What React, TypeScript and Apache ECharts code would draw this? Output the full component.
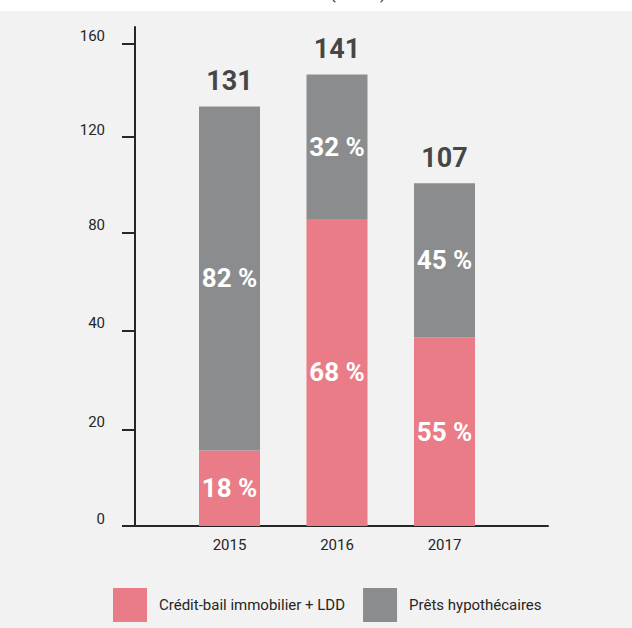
import React, { useEffect, useRef } from "react";
import * as echarts from "echarts";

const years = ["2015", "2016", "2017"];
const totals = [131, 141, 107];
const creditBailShare = [18, 68, 55];
const pretsShare = [82, 32, 45];
const yTickLabels = ["0", "20", "40", "80", "120", "160"];
const yTickAt = [0, 30, 60.9, 91.5, 121.4, 150.5];
const seriesNames = ["Crédit-bail immobilier + LDD", "Prêts hypothécaires"];
const titleText = "(en M€)";

const PINK = "#e97c86";
const GRAY = "#8b8c8e";
const INK = "#262626";
const BOLD = "Roboto, 'DejaVu Sans Condensed', sans-serif";
const NARROW = "Roboto, 'Liberation Sans', sans-serif";
const Y_MAX = 155.8;

export default function App() {
  const ref = useRef<HTMLDivElement>(null);
  useEffect(() => {
    document.body.style.margin = "0";
    const chart = echarts.init(ref.current!, null, { renderer: "svg" });
    const pinkData = years.map((_, i) => (totals[i] * creditBailShare[i]) / 100);
    const grayData = years.map((_, i) => (totals[i] * pretsShare[i]) / 100);
    const nearestIdx = (v: number) => {
      let best = 0;
      for (let i = 1; i < yTickAt.length; i++) {
        if (Math.abs(yTickAt[i] - v) < Math.abs(yTickAt[best] - v)) best = i;
      }
      return best;
    };
    chart.setOption({
      animation: false,
      backgroundColor: "#f2f2f2",
      graphic: [
        { type: "rect", shape: { x: 0, y: 0, width: 632, height: 11 }, style: { fill: "#ffffff" }, silent: true },
        {
          type: "text",
          x: 358,
          y: 1,
          style: { text: titleText, fontSize: 16, fill: INK, align: "center", verticalAlign: "bottom", fontFamily: NARROW },
          silent: true,
        },
      ],
      grid: [
        { left: 175.75, right: 133.75, top: 27, bottom: 102, containLabel: false, outerBoundsMode: "none" },
        { left: 135, right: 84, top: 27, bottom: 102, containLabel: false, outerBoundsMode: "none" },
      ],
      legend: {
        data: seriesNames,
        left: 113,
        top: 588,
        padding: 0,
        icon: "rect",
        itemWidth: 34,
        itemHeight: 34,
        itemGap: 18,
        selectedMode: false,
        textStyle: { fontSize: 15, color: INK, fontFamily: NARROW, padding: [0, 0, 0, 7] },
      },
      xAxis: [
        {
          type: "category",
          gridIndex: 0,
          data: years,
          axisLine: { show: false },
          axisTick: { show: false },
          axisLabel: { fontSize: 15, color: INK, margin: 11, fontFamily: NARROW },
        },
        {
          type: "value",
          gridIndex: 1,
          min: 0,
          max: 1,
          splitLine: { show: false },
          axisLine: { show: true, onZero: false, lineStyle: { color: INK, width: 2 } },
          axisTick: { show: false },
          axisLabel: { show: false },
        },
      ],
      yAxis: [
        {
          type: "value",
          gridIndex: 0,
          min: 0,
          max: Y_MAX,
          show: false,
          splitLine: { show: false },
        },
        {
          type: "value",
          gridIndex: 1,
          min: 0,
          max: Y_MAX,
          splitLine: { show: false },
          axisLine: { show: true, onZero: false, lineStyle: { color: INK, width: 2 } },
          axisTick: { show: true, length: 13, lineStyle: { color: INK, width: 2 }, customValues: yTickAt },
          axisLabel: {
            customValues: yTickAt,
            formatter: (v: number) => yTickLabels[nearestIdx(v)],
            fontSize: 15,
            color: INK,
            margin: 30,
            verticalAlign: "bottom",
            fontFamily: NARROW,
          },
        },
      ],
      series: [
        {
          name: seriesNames[0],
          type: "bar",
          xAxisIndex: 0,
          yAxisIndex: 0,
          stack: "total",
          barWidth: 61,
          data: pinkData,
          itemStyle: { color: PINK },
          label: {
            show: true,
            position: "inside",
            formatter: (p: any) => creditBailShare[p.dataIndex] + " %",
            color: "#ffffff",
            fontSize: 26,
            fontWeight: "bold",
            fontFamily: BOLD,
          },
        },
        {
          name: seriesNames[1],
          type: "bar",
          xAxisIndex: 0,
          yAxisIndex: 0,
          stack: "total",
          barWidth: 61,
          data: grayData,
          itemStyle: { color: GRAY },
          label: {
            show: true,
            position: "inside",
            formatter: (p: any) => pretsShare[p.dataIndex] + " %",
            color: "#ffffff",
            fontSize: 26,
            fontWeight: "bold",
            fontFamily: BOLD,
          },
        },
        {
          name: "total",
          type: "scatter",
          xAxisIndex: 0,
          yAxisIndex: 0,
          data: totals,
          symbolSize: 0,
          silent: true,
          label: {
            show: true,
            position: "top",
            distance: 12,
            formatter: (p: any) => String(totals[p.dataIndex]),
            color: "#161616",
            fontSize: 27,
            fontWeight: "bold",
            fontFamily: BOLD,
          },
        },
      ],
    });
    return () => chart.dispose();
  }, []);
  return <div ref={ref} style={{ width: 632, height: 628 }} />;
}
